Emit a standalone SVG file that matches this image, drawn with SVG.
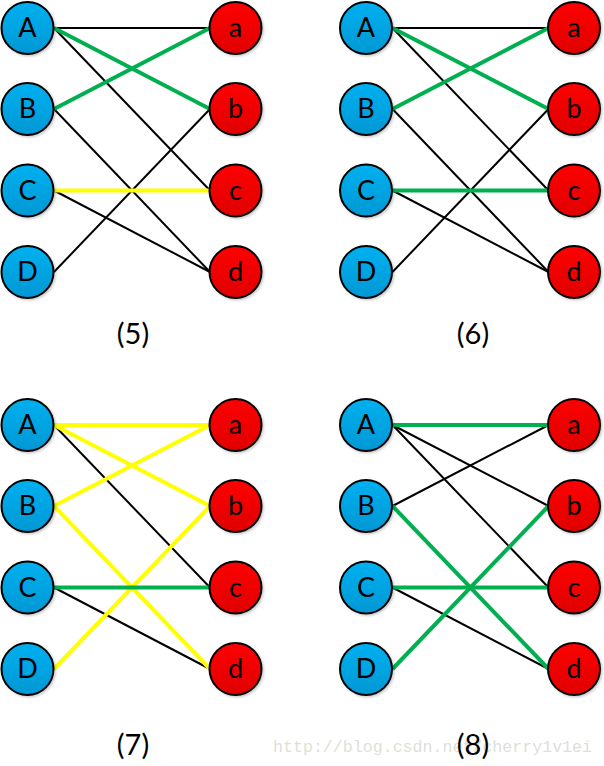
<svg xmlns="http://www.w3.org/2000/svg" width="604" height="766" viewBox="0 0 604 766">
<style>
text{font-family:"Lato","Open Sans","Liberation Sans",sans-serif;fill:#000;text-anchor:middle}
.n{font-size:27px}
.cap{font-size:29px}
.L{fill:url(#blue)}.R{fill:url(#red)}
.L,.R{stroke:#000;stroke-width:2;filter:url(#sh)}
line{fill:none}
.k{stroke:#000;stroke-width:2}
.g{stroke:#00b050;stroke-width:4}
.y{stroke:#ffff00;stroke-width:4}
.wm{font-family:"Liberation Mono",monospace;font-size:16.6px;fill:#dedfd8;text-anchor:start}
</style>
<defs>
<linearGradient id="blue" x1="0" y1="0" x2="0" y2="1"><stop offset="0" stop-color="#00b0f0"/><stop offset="1" stop-color="#0098d4"/></linearGradient>
<linearGradient id="red" x1="0" y1="0" x2="0" y2="1"><stop offset="0" stop-color="#ff0000"/><stop offset="1" stop-color="#e00000"/></linearGradient>
<filter id="sh" x="-20%" y="-20%" width="150%" height="150%"><feDropShadow dx="1.5" dy="1.5" stdDeviation="1.2" flood-color="#000" flood-opacity="0.2"/></filter>
</defs>
<g id="connectors">
<g id="edges5">
<line class="k" x1="54" y1="28" x2="210" y2="28"/><line class="k" x1="54" y1="28" x2="210" y2="190.5"/><line class="k" x1="54" y1="109" x2="210" y2="272"/><line class="k" x1="54" y1="190.5" x2="210" y2="272"/><line class="k" x1="54" y1="272" x2="210" y2="109"/>
<line class="g" x1="54" y1="28" x2="210" y2="109"/><line class="g" x1="54" y1="109" x2="210" y2="28"/><line class="y" x1="54" y1="190.5" x2="210" y2="190.5"/>
</g>
<g id="edges6" transform="translate(338.5 0)">
<line class="k" x1="54" y1="28" x2="210" y2="28"/><line class="k" x1="54" y1="28" x2="210" y2="190.5"/><line class="k" x1="54" y1="109" x2="210" y2="272"/><line class="k" x1="54" y1="190.5" x2="210" y2="272"/><line class="k" x1="54" y1="272" x2="210" y2="109"/>
<line class="g" x1="54" y1="28" x2="210" y2="109"/><line class="g" x1="54" y1="109" x2="210" y2="28"/><line class="g" x1="54" y1="190.5" x2="210" y2="190.5"/>
</g>
<g id="edges7" transform="translate(0 397)">
<line class="k" x1="54" y1="28" x2="210" y2="190.5"/><line class="k" x1="54" y1="190.5" x2="210" y2="272"/>
<line class="y" x1="54" y1="28" x2="210" y2="28"/><line class="y" x1="54" y1="28" x2="210" y2="109"/><line class="y" x1="54" y1="109" x2="210" y2="28"/><line class="y" x1="54" y1="109" x2="210" y2="272"/><line class="y" x1="54" y1="272" x2="210" y2="109"/><line class="g" x1="54" y1="190.5" x2="210" y2="190.5"/>
</g>
<g id="edges8" transform="translate(338.5 397)">
<line class="k" x1="54" y1="28" x2="210" y2="109"/><line class="k" x1="54" y1="28" x2="210" y2="190.5"/><line class="k" x1="54" y1="109" x2="210" y2="28"/><line class="k" x1="54" y1="190.5" x2="210" y2="272"/>
<line class="g" x1="54" y1="28" x2="210" y2="28"/><line class="g" x1="54" y1="109" x2="210" y2="272"/><line class="g" x1="54" y1="190.5" x2="210" y2="190.5"/><line class="g" x1="54" y1="272" x2="210" y2="109"/>
</g>
</g>
<g id="p5">
<g id="p5A"><circle class="L" cx="27.5" cy="28" r="26"/><text class="n" x="27.5" y="37">A</text></g>
<g id="p5B"><circle class="L" cx="27.5" cy="109" r="26"/><text class="n" x="27.5" y="118">B</text></g>
<g id="p5C"><circle class="L" cx="27.5" cy="190.5" r="26"/><text class="n" x="27.5" y="199.5">C</text></g>
<g id="p5D"><circle class="L" cx="27.5" cy="272" r="26"/><text class="n" x="27.5" y="281">D</text></g>
<g id="p5a"><circle class="R" cx="235.5" cy="28" r="26"/><text class="n" x="235.5" y="37">a</text></g>
<g id="p5b"><circle class="R" cx="235.5" cy="109" r="26"/><text class="n" x="235.5" y="118">b</text></g>
<g id="p5c"><circle class="R" cx="235.5" cy="190.5" r="26"/><text class="n" x="235.5" y="199.5">c</text></g>
<g id="p5d"><circle class="R" cx="235.5" cy="272" r="26"/><text class="n" x="235.5" y="281">d</text></g>
<text class="cap" x="133" y="344">(5)</text>
</g>
<g id="p6" transform="translate(338.5 0)">
<g id="p6A"><circle class="L" cx="27.5" cy="28" r="26"/><text class="n" x="27.5" y="37">A</text></g>
<g id="p6B"><circle class="L" cx="27.5" cy="109" r="26"/><text class="n" x="27.5" y="118">B</text></g>
<g id="p6C"><circle class="L" cx="27.5" cy="190.5" r="26"/><text class="n" x="27.5" y="199.5">C</text></g>
<g id="p6D"><circle class="L" cx="27.5" cy="272" r="26"/><text class="n" x="27.5" y="281">D</text></g>
<g id="p6a"><circle class="R" cx="235.5" cy="28" r="26"/><text class="n" x="235.5" y="37">a</text></g>
<g id="p6b"><circle class="R" cx="235.5" cy="109" r="26"/><text class="n" x="235.5" y="118">b</text></g>
<g id="p6c"><circle class="R" cx="235.5" cy="190.5" r="26"/><text class="n" x="235.5" y="199.5">c</text></g>
<g id="p6d"><circle class="R" cx="235.5" cy="272" r="26"/><text class="n" x="235.5" y="281">d</text></g>
<text class="cap" x="134.5" y="344">(6)</text>
</g>
<g id="p7" transform="translate(0 397)">
<g id="p7A"><circle class="L" cx="27.5" cy="28" r="26"/><text class="n" x="27.5" y="37">A</text></g>
<g id="p7B"><circle class="L" cx="27.5" cy="109" r="26"/><text class="n" x="27.5" y="118">B</text></g>
<g id="p7C"><circle class="L" cx="27.5" cy="190.5" r="26"/><text class="n" x="27.5" y="199.5">C</text></g>
<g id="p7D"><circle class="L" cx="27.5" cy="272" r="26"/><text class="n" x="27.5" y="281">D</text></g>
<g id="p7a"><circle class="R" cx="235.5" cy="28" r="26"/><text class="n" x="235.5" y="37">a</text></g>
<g id="p7b"><circle class="R" cx="235.5" cy="109" r="26"/><text class="n" x="235.5" y="118">b</text></g>
<g id="p7c"><circle class="R" cx="235.5" cy="190.5" r="26"/><text class="n" x="235.5" y="199.5">c</text></g>
<g id="p7d"><circle class="R" cx="235.5" cy="272" r="26"/><text class="n" x="235.5" y="281">d</text></g>
<text class="cap" x="133" y="358">(7)</text>
</g>
<text class="wm" x="273" y="752" textLength="319">http://blog.csdn.net/cherry1v1ei</text>
<g id="p8" transform="translate(338.5 397)">
<g id="p8A"><circle class="L" cx="27.5" cy="28" r="26"/><text class="n" x="27.5" y="37">A</text></g>
<g id="p8B"><circle class="L" cx="27.5" cy="109" r="26"/><text class="n" x="27.5" y="118">B</text></g>
<g id="p8C"><circle class="L" cx="27.5" cy="190.5" r="26"/><text class="n" x="27.5" y="199.5">C</text></g>
<g id="p8D"><circle class="L" cx="27.5" cy="272" r="26"/><text class="n" x="27.5" y="281">D</text></g>
<g id="p8a"><circle class="R" cx="235.5" cy="28" r="26"/><text class="n" x="235.5" y="37">a</text></g>
<g id="p8b"><circle class="R" cx="235.5" cy="109" r="26"/><text class="n" x="235.5" y="118">b</text></g>
<g id="p8c"><circle class="R" cx="235.5" cy="190.5" r="26"/><text class="n" x="235.5" y="199.5">c</text></g>
<g id="p8d"><circle class="R" cx="235.5" cy="272" r="26"/><text class="n" x="235.5" y="281">d</text></g>
<text class="cap" x="134.5" y="358">(8)</text>
</g>
</svg>
